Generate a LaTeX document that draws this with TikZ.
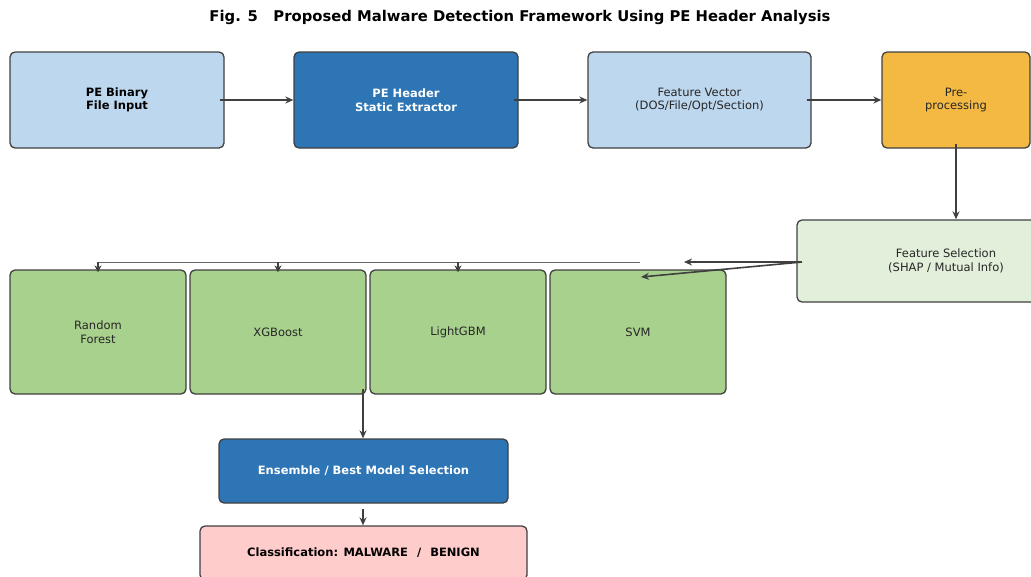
\documentclass[tikz,border=0pt]{standalone}
\usepackage{fontspec}
\setmainfont{DejaVu Sans}
\usetikzlibrary{arrows.meta}
\definecolor{lightblue}{HTML}{BDD7EE}
\definecolor{darkblue}{HTML}{2E75B6}
\definecolor{orangefill}{HTML}{F4B942}
\definecolor{palegreen}{HTML}{E2EFDA}
\definecolor{modelgreen}{HTML}{A9D18E}
\definecolor{pinkfill}{HTML}{FFCCCC}
\definecolor{edge}{HTML}{404040}
\tikzset{
  box/.style={draw=edge, line width=1.3pt, rounded corners=5pt, align=center,
    font=\fontsize{11.5}{13.5}\selectfont, text=black!85},
  boldbox/.style={box, font=\fontsize{11.5}{13.5}\selectfont\bfseries, text=black},
  whitebox/.style={boldbox, text=white},
  flow/.style={draw=edge, line width=1.6pt, -{Stealth[length=8pt,width=7pt]}},
  thin/.style={draw=black!60, line width=0.8pt},
  drop/.style={draw=edge, line width=1.1pt, -{Stealth[length=7pt,width=7pt]}}
}
\begin{document}
\begin{tikzpicture}[x=1pt,y=-1pt]
\useasboundingbox (0,0) rectangle (1031,576);
\clip (0,0) rectangle (1031,576);

\node[font=\fontsize{14.8}{17}\selectfont\bfseries] (title) at (520,17)
  {Fig. 5\ \ \ Proposed Malware Detection Framework Using PE Header Analysis};

% top row
\node[boldbox, fill=lightblue, minimum width=214pt, minimum height=96pt] (in) at (117,100) {PE Binary\\File Input};
\node[whitebox, fill=darkblue, minimum width=224pt, minimum height=96pt] (hdr) at (406,100) {PE Header\\Static Extractor};
\node[box, fill=lightblue, minimum width=223pt, minimum height=96pt] (fv) at (699.5,100) {Feature Vector\\(DOS/File/Opt/Section)};
\node[box, fill=orangefill, minimum width=148pt, minimum height=96pt] (pre) at (956,100) {Pre-\\processing};

% feature selection
\node[box, fill=palegreen, minimum width=298pt, minimum height=82pt] (fs) at (946,261) {Feature Selection\\(SHAP / Mutual Info)};

% models
\node[box, fill=modelgreen, minimum width=176pt, minimum height=124pt] (rf) at (98,332) {Random\\Forest};
\node[box, fill=modelgreen, minimum width=176pt, minimum height=124pt] (xgb) at (278,332) {XGBoost};
\node[box, fill=modelgreen, minimum width=176pt, minimum height=124pt] (lgbm) at (458,332) {LightGBM};
\node[box, fill=modelgreen, minimum width=176pt, minimum height=124pt] (svm) at (638,332) {SVM};

% ensemble and result
\node[whitebox, fill=darkblue, minimum width=289pt, minimum height=64pt] (ens) at (363.5,471) {Ensemble / Best Model Selection};
\node[boldbox, fill=pinkfill, minimum width=327pt, minimum height=54pt] (cls) at (363.5,553) {Classification: MALWARE\hspace{9pt}/\hspace{9pt}BENIGN};

% top-row flow
\draw[flow] ([xshift=-5pt]in.east) -- (hdr.west);
\draw[flow] ([xshift=-5pt]hdr.east) -- (fv.west);
\draw[flow] ([xshift=-5pt]fv.east) -- (pre.west);
\draw[flow] ([yshift=5pt]pre.south) -- (pre.south |- fs.north);

% fan-out to models
\coordinate (fsout) at (802,262);
\coordinate (tipA) at (684,262);
\coordinate (tipB) at (641,277);
\draw[flow] (fsout) -- (tipA);
\draw[flow] (fsout) -- (tipB);
\coordinate (busR) at (640,262);
\coordinate (busL) at (98,262);
\draw[thin] (busR) -- (busL);
\draw[drop] (busL) -- ([yshift=-3pt]rf.north);
\draw[drop] (278,262) -- ([yshift=-3pt]xgb.north);
\draw[drop] (458,262) -- ([yshift=-3pt]lgbm.north);

% models to ensemble to result
\coordinate (xgbout) at (363,389);
\draw[flow] (xgbout) -- (ens.north -| xgbout);
\draw[flow] ([yshift=-5pt]ens.south -| xgbout) -- (cls.north -| xgbout);
\end{tikzpicture}
\end{document}
